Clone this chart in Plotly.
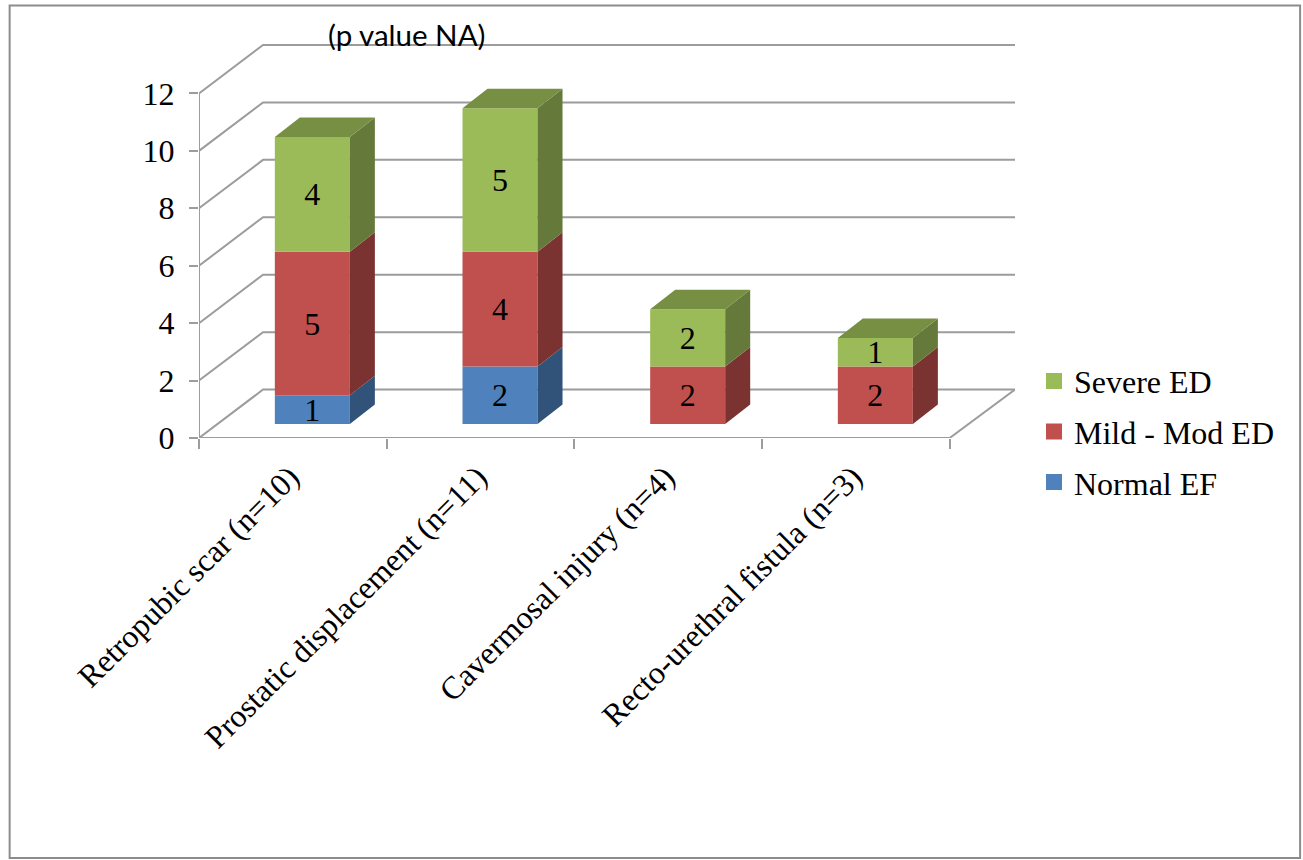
import plotly.graph_objects as go

categories = ["Retropubic scar (n=10)", "Prostatic displacement (n=11)",
              "Cavermosal injury (n=4)", "Recto-urethral fistula (n=3)"]
normal_ef = [1, 2, 0, 0]
mild_mod_ed = [5, 4, 2, 2]
severe_ed = [4, 5, 2, 1]
y_ticks = [0, 2, 4, 6, 8, 10, 12]

series = [
    ("Normal EF", normal_ef, "#4F81BD", "#31537A", "#3D6596"),
    ("Mild - Mod ED", mild_mod_ed, "#C0504D", "#7B3331", "#963F3C"),
    ("Severe ED", severe_ed, "#9BBB59", "#657A3A", "#778F43"),
]

# plot geometry, in axis units
PX_X, PX_Y = 187.6, 28.75
L, R_PX, T, B = 199.3, 1015.0, 44.0, 438.5
wall_dx, wall_dy = 64 / PX_X, 48.5 / PX_Y
bar_dx, bar_dy = 19.5 / PX_X, 14.0 / PX_Y
side_dx, side_dy = 25 / PX_X, 19.5 / PX_Y
bar_w = 75 / PX_X
x_max = (R_PX - L) / PX_X
y_max = (B - T) / PX_Y
n = len(categories)

GRID = "#9C9C9C"
FONT = "Liberation Serif"
FS = 32
fig = go.Figure()

bottoms = [0] * n
for name, vals, col, side, top in series:
    xc = [i + 0.5 + bar_dx for i in range(n)]
    base = [b + bar_dy for b in bottoms]
    shown = [v if v else None for v in vals]
    fig.add_trace(go.Bar(
        x=xc, y=shown, base=base, width=bar_w, marker=dict(color=col, line=dict(width=0)),
        text=[str(v) if v else "" for v in vals], textposition="inside",
        insidetextanchor="middle", constraintext="none", textangle=0,
        insidetextfont=dict(family=FONT, size=FS, color="black"),
        showlegend=False, hoverinfo="skip"))
    for i in range(n):
        if not vals[i]:
            continue
        x1 = xc[i] + bar_w / 2
        y0 = base[i]
        y1 = y0 + vals[i]
        fig.add_trace(go.Scatter(
            x=[x1, x1 + side_dx, x1 + side_dx, x1, x1],
            y=[y0, y0 + side_dy, y1 + side_dy, y1, y0],
            mode="lines", line=dict(width=0), fill="toself", fillcolor=side,
            showlegend=False, hoverinfo="skip"))
    bottoms = [b + v for b, v in zip(bottoms, vals)]

# top caps
for i in range(n):
    last = [s for s in series if s[1][i]][-1]
    xc = i + 0.5 + bar_dx
    x0, x1 = xc - bar_w / 2, xc + bar_w / 2
    y = bottoms[i] + bar_dy
    fig.add_trace(go.Scatter(
        x=[x0, x1, x1 + side_dx, x0 + side_dx, x0],
        y=[y, y, y + side_dy, y + side_dy, y],
        mode="lines", line=dict(width=0), fill="toself", fillcolor=last[4],
        showlegend=False, hoverinfo="skip"))

# legend entries
for name, vals, col, side, top in reversed(series):
    fig.add_trace(go.Scatter(
        x=[None], y=[None], mode="markers", name=name, legendgroup=name,
        marker=dict(symbol="square", size=16, color=col)))

# walls and floor
line = dict(color=GRID, width=2)
for v in y_ticks:
    fig.add_shape(type="path", layer="below", line=line,
                  path=f"M0,{v} L{wall_dx},{v + wall_dy} L{x_max},{v + wall_dy}")
fig.add_shape(type="line", layer="below", line=line, x0=0, x1=0, y0=0, y1=y_ticks[-1])
fig.add_shape(type="line", layer="below", line=line, x0=0, x1=n, y0=0, y1=0)
fig.add_shape(type="line", layer="below", line=line, x0=n, x1=x_max, y0=0, y1=wall_dy)

# chart frame
fig.add_shape(type="rect", xref="paper", yref="paper", layer="below",
              line=dict(color="#8C8C8C", width=2),
              x0=(10 - L) / (R_PX - L), x1=(1300 - L) / (R_PX - L),
              y0=(B - 859) / (B - T), y1=(B - 5.5) / (B - T))

fig.add_annotation(text="(p value NA)", xref="paper", yref="paper", showarrow=False,
                   xanchor="center", yanchor="middle",
                   x=(407 - L) / (R_PX - L), y=(B - 34) / (B - T),
                   font=dict(family="Lato", size=29.5, color="black"))

fig.update_layout(
    width=1303, height=860, barmode="overlay", plot_bgcolor="white", paper_bgcolor="white",
    margin=dict(l=L, r=1303 - R_PX, t=T, b=860 - B, autoexpand=False),
    legend=dict(x=(1034 - L) / (R_PX - L), y=(B - 354) / (B - T), xanchor="left", yanchor="top",
                font=dict(family=FONT, size=FS, color="black"), tracegroupgap=6,
                bgcolor="rgba(0,0,0,0)", traceorder="grouped"),
    xaxis=dict(range=[0, x_max], tickmode="array", tickvals=[i + 0.5 for i in range(n)],
               ticktext=categories, tickangle=-45, ticks="", showgrid=False, zeroline=False,
               showline=False, tickfont=dict(family=FONT, size=FS, color="black"),
               ticklabelstandoff=13, ticklabelshift=-3,
               minor=dict(tickmode="array", tickvals=list(range(n + 1)), ticks="outside",
                          ticklen=10, tickwidth=2, tickcolor=GRID, showgrid=False)),
    yaxis=dict(range=[0, y_max], tickmode="array", tickvals=y_ticks, ticks="outside",
               ticklen=9, tickwidth=2, tickcolor=GRID, showgrid=False, zeroline=False,
               showline=False, ticklabelstandoff=8,
               tickfont=dict(family=FONT, size=FS, color="black")),
)

fig.write_html("out.html", config=dict(displayModeBar=False),
               post_script="document.body.style.margin='0';")
